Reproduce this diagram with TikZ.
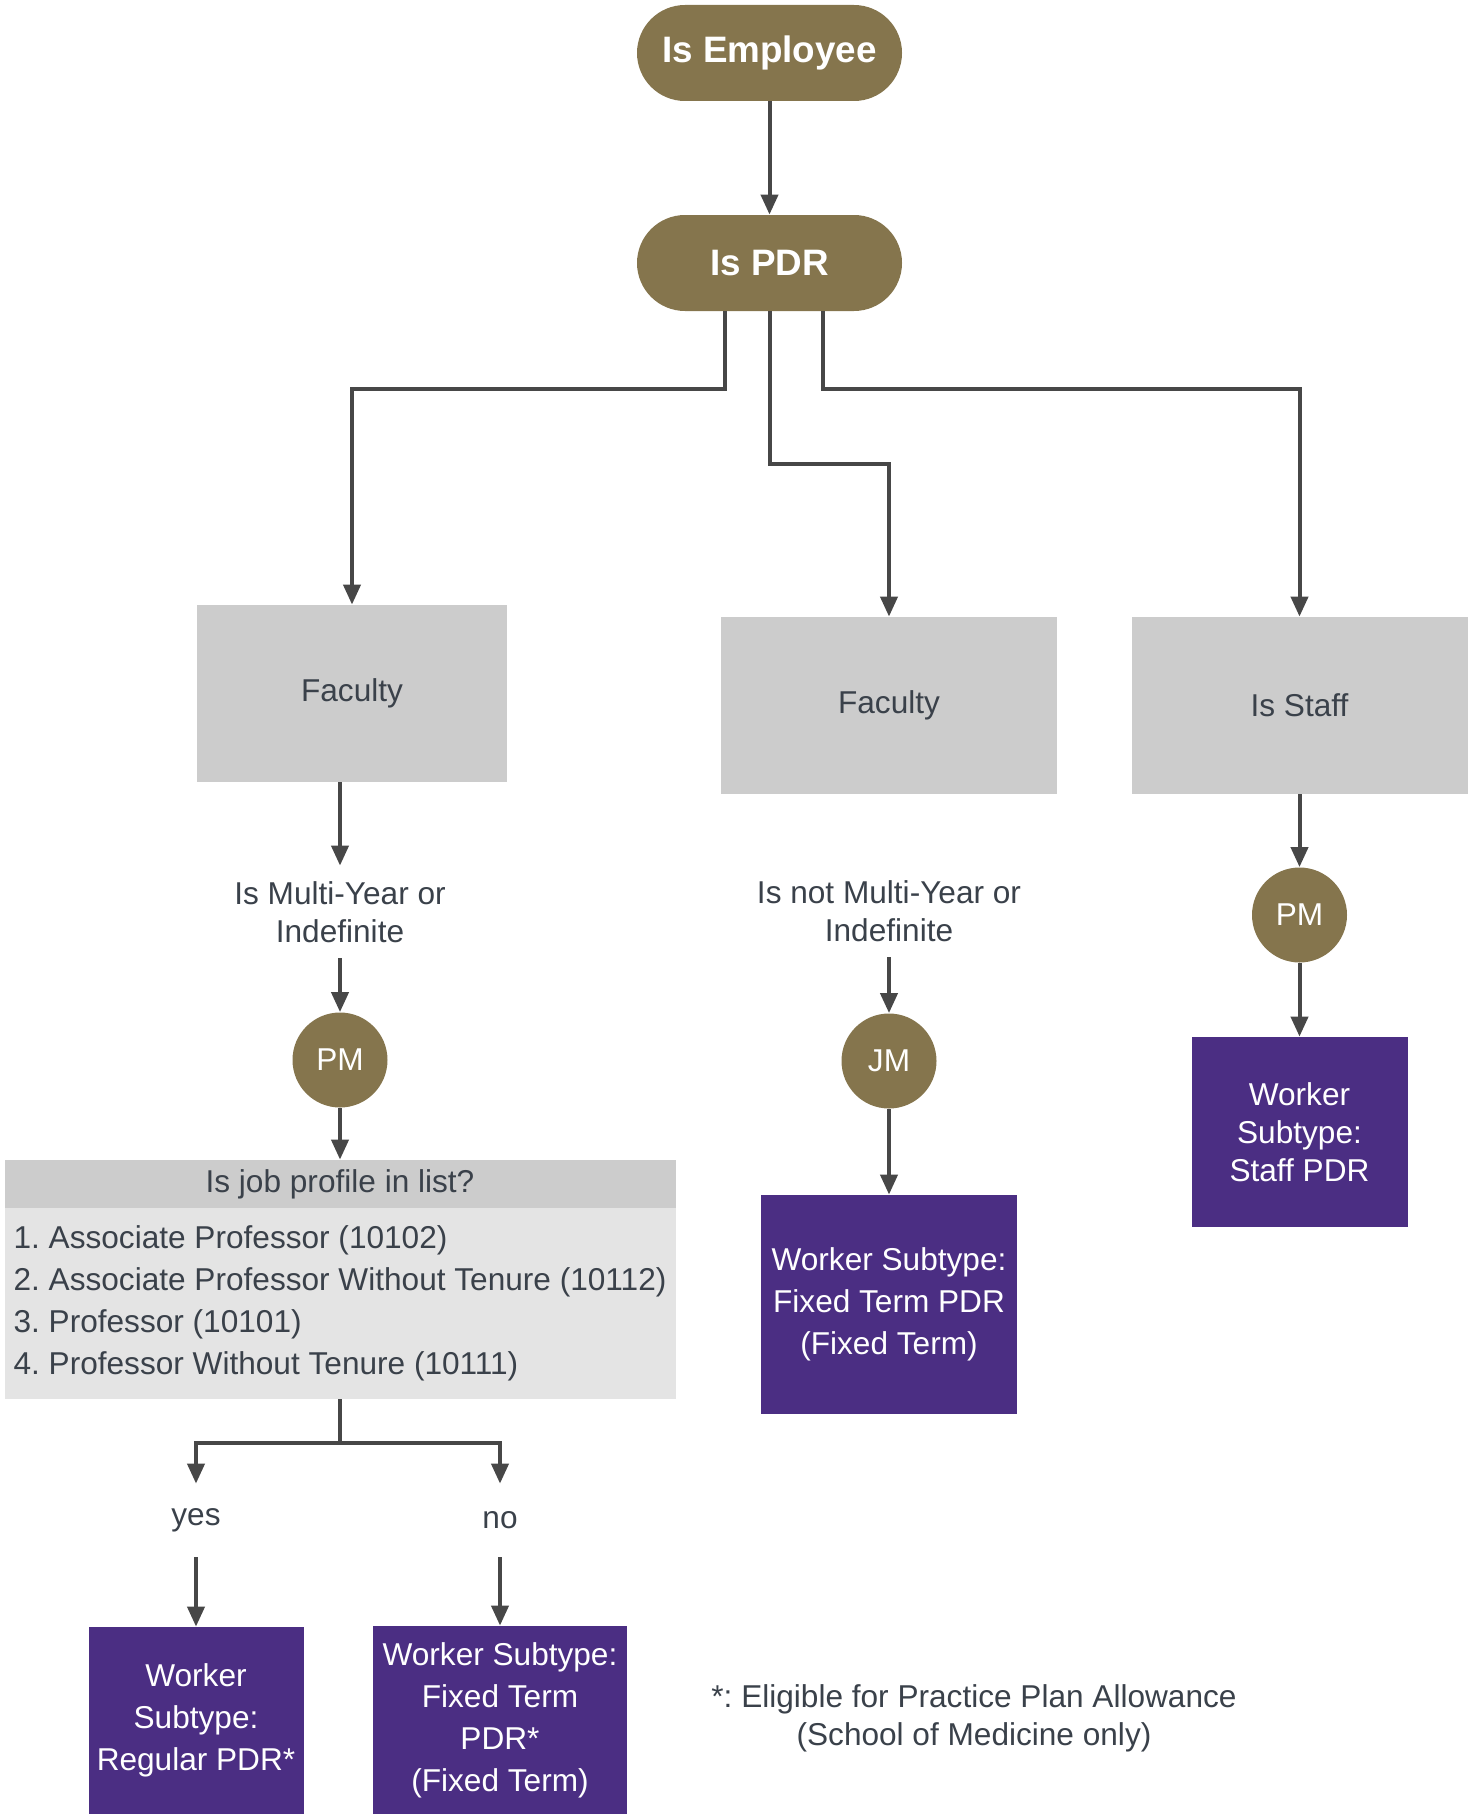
\documentclass[tikz,border=0pt]{standalone}
\usepackage{fontspec}
\setmainfont{Liberation Sans}
\usepackage{xcolor,tikz}
\frenchspacing
\definecolor{goldbrown}{HTML}{85754D}
\definecolor{uwpurple}{HTML}{4B2E83}
\definecolor{boxgray}{HTML}{CCCCCC}
\definecolor{lightergray}{HTML}{E4E4E4}
\definecolor{textgray}{HTML}{3A414A}
\definecolor{linegray}{HTML}{474747}
\usetikzlibrary{positioning,arrows.meta}
\tikzset{>={Triangle[length=10pt,width=8.5pt]}}
\tikzset{
pill/.style={fill=goldbrown,text=white,rounded corners=24pt,minimum width=132.5pt,minimum height=48pt,font=\fontsize{18.4}{22}\selectfont\bfseries},
graybox/.style={fill=boxgray,text=textgray,minimum height=88.5pt,font=\fontsize{15.8}{19}\selectfont},
subtype/.style={fill=uwpurple,text=white,align=center,inner sep=0pt,font=\fontsize{15.8}{21}\selectfont},
decision/.style={circle,fill=goldbrown,text=white,minimum size=47.5pt,inner sep=0pt,font=\fontsize{15.8}{19}\selectfont},
plain/.style={text=textgray,align=center,inner sep=0pt,font=\fontsize{15.8}{19}\selectfont},
conn/.style={->,line width=2pt,draw=linegray}
}

\begin{document}
\begin{tikzpicture}[x=0.5pt,y=0.5pt]
\useasboundingbox (0,0) rectangle (1474,-1814);
\node[pill] (emp) at (769.5,-53) {Is Employee};
\node[pill] (pdr) at (769.5,-263) {Is PDR};
\node[graybox,minimum width=155pt] (fac1) at (352,-693.5) {Faculty};
\node[graybox,minimum width=168pt] (fac2) at (889,-705.5) {Faculty};
\node[graybox,minimum width=168pt] (staff) at (1299.5,-705.5) {Is Staff};
\node[plain,minimum height=46pt] (multi) at (340,-912) {Is Multi-Year or\\Indefinite};
\node[plain,minimum height=46pt] (notmulti) at (889,-911) {Is not Multi-Year or\\Indefinite};
\node[decision] (pm1) at (340,-1060) {PM};
\node[decision] (jm) at (889,-1061) {JM};
\node[decision] (pm2) at (1299.5,-915) {PM};
\node[fill=boxgray,text=textgray,minimum width=335.5pt,minimum height=24pt,inner sep=0pt,font=\fontsize{15.8}{19}\selectfont] (listhead) at (340,-1184) {Is job profile in list?};
\node[fill=lightergray,text=textgray,align=left,minimum width=335.5pt,minimum height=95.5pt,inner sep=2.5pt,font=\fontsize{15.8}{21}\selectfont] (listbody) at (340,-1303.5) {1. Associate Professor (10102)\\2. Associate Professor Without Tenure (10112)\\3. Professor (10101)\\4. Professor Without Tenure (10111)};
\node[plain,minimum height=36.5pt] (yes) at (196,-1520.5) {yes};
\node[plain,minimum height=36.5pt] (no) at (500,-1520.5) {no};
\node[subtype,minimum width=107.5pt,minimum height=93.5pt] (regular) at (196,-1720.5) {Worker\\Subtype:\\Regular PDR*};
\node[subtype,minimum width=127pt,minimum height=94pt] (fixedstar) at (500,-1720) {Worker Subtype:\\Fixed Term\\PDR*\\(Fixed Term)};
\node[subtype,minimum width=128pt,minimum height=109.5pt] (fixed) at (889,-1304.5) {Worker Subtype:\\Fixed Term PDR\\(Fixed Term)};
\node[subtype,minimum width=108pt,minimum height=95pt,font=\fontsize{15.8}{19}\selectfont] (staffpdr) at (1299.5,-1132) {Worker\\Subtype:\\Staff PDR};
\node[plain] (note) at (974,-1718) {*: Eligible for Practice Plan Allowance\\(School of Medicine only)};
\draw[conn] (emp) -- (pdr);
\draw[conn] ([xshift=-22.25pt]pdr.south) -- ++(0,-78) -| (fac1.north);
\draw[conn] (pdr.south) -- ++(0,-153) -| (fac2.north);
\draw[conn] ([xshift=26.75pt]pdr.south) -- ++(0,-78) -| (staff.north);
\draw[conn] (multi.north |- fac1.south) -- (multi.north);
\draw[conn] (multi) -- (pm1);
\draw[conn] (pm1) -- (listhead);
\draw[conn] (notmulti) -- (jm);
\draw[conn] (jm) -- (fixed);
\draw[conn] (staff) -- (pm2);
\draw[conn] (pm2) -- (staffpdr);
\draw[conn] (listbody.south) -- ++(0,-44) -| (yes.north);
\draw[conn] (listbody.south) -- ++(0,-44) -| (no.north);
\draw[conn] (yes) -- (regular);
\draw[conn] (no) -- (fixedstar);
\end{tikzpicture}
\end{document}
